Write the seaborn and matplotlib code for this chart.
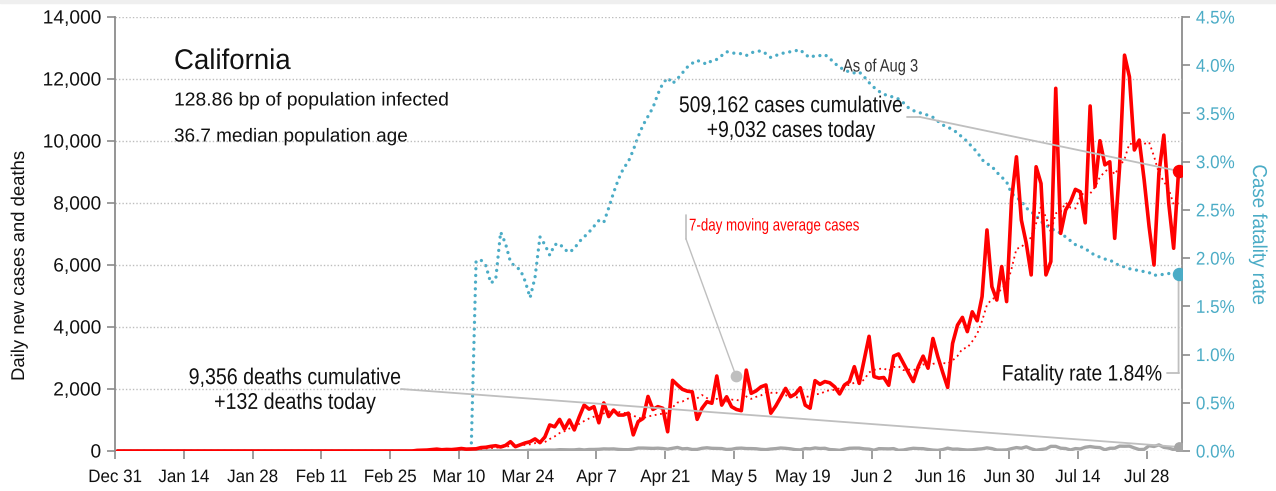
import matplotlib
matplotlib.use("Agg")
import matplotlib.pyplot as plt
import matplotlib.ticker as mticker
from matplotlib.patheffects import AbstractPathEffect
from matplotlib.transforms import Affine2D
import seaborn as sns
import numpy as np
import pandas as pd

# ---------------- data ----------------
start_date = "2019-12-31"
end_date = "2020-08-03"

# daily new cases (zero before Mar 1)
cases_before_mar = [0] * 61
cases_mar = [20, 25, 30, 45, 60, 40, 50, 45, 60, 80, 60, 65, 70, 110, 120, 150, 170, 130, 180, 300,
             140, 200, 260, 300, 390, 270, 450, 840, 780, 1020, 710]
cases_apr = [1000, 680, 1100, 1480, 1350, 1430, 910, 1550, 1110, 1320, 1160, 1160, 1220, 520, 950,
             1050, 1760, 1340, 1430, 1380, 620, 2280, 2130, 1990, 1930, 1910, 1020, 1380, 1590, 1540]
cases_may = [2420, 1480, 1750, 1430, 1340, 1300, 2610, 1860, 1940, 2070, 2130, 1220, 1450, 1730, 2020,
             1750, 1840, 2040, 1480, 1380, 2270, 2150, 2240, 2200, 2070, 1840, 2130, 2240, 2720, 2180, 2940]
cases_jun = [3700, 2400, 2350, 2370, 2120, 3060, 3130, 2830, 2530, 2240, 2720, 3060, 2670, 3630, 3040,
             2530, 2050, 3470, 4060, 4310, 3850, 4490, 4200, 4980, 7130, 5300, 4870, 5950, 4820, 8100]
cases_jul = [9490, 7450, 6700, 5680, 9170, 8630, 5680, 6110, 11700, 7020, 7770, 8040, 8440, 8360, 7360,
             11130, 8530, 10010, 9230, 9330, 6860, 9170, 12770, 12070, 9710, 10030, 8740, 7240, 6000, 8960, 10190]
cases_aug = [7990, 6540, 9032]

# daily new deaths (zero before Mar 1)
deaths_before_mar = [0] * 61
deaths_mar = [0, 0, 0, 1, 0, 1, 0, 1, 1, 2, 1, 2, 3, 2, 2, 6, 5, 6, 7, 9, 13, 10, 12, 26, 18, 24, 28, 32, 30, 43, 38]
deaths_apr = [36, 37, 52, 34, 49, 50, 55, 68, 64, 68, 52, 44, 42, 64, 95, 95, 88, 84, 91, 80, 60, 87, 115, 70, 80,
              49, 51, 88, 104, 87]
deaths_may = [84, 79, 50, 56, 86, 93, 79, 78, 72, 53, 45, 65, 77, 97, 87, 70, 43, 35, 78, 70, 99, 82, 88, 47, 38,
              23, 60, 88, 93, 93, 70]
deaths_jun = [61, 26, 76, 73, 68, 77, 23, 33, 65, 88, 79, 75, 50, 30, 21, 47, 92, 59, 62, 44, 31, 38, 59, 71, 101,
              78, 31, 30, 36, 77]
deaths_jul = [110, 90, 135, 72, 26, 48, 70, 150, 149, 90, 80, 34, 78, 66, 121, 144, 120, 110, 40, 88, 90, 157, 154,
              158, 98, 47, 53, 170, 145, 197, 118]
deaths_aug = [95, 44, 132]

# case fatality rate in % (zero before Mar 13)
cfr_before = [0.0] * 73
cfr_mar = [1.97, 1.98, 1.92, 1.74, 1.78, 2.27, 2.15, 1.96, 1.91, 1.88, 1.76, 1.59, 1.80, 2.22, 2.14, 2.03, 2.14,
           2.15, 2.09]
cfr_apr = [2.06, 2.10, 2.17, 2.22, 2.27, 2.33, 2.39, 2.37, 2.52, 2.68, 2.82, 2.93, 3.00, 3.12, 3.26, 3.38, 3.47,
           3.56, 3.70, 3.81, 3.87, 3.81, 3.86, 3.92, 3.98, 4.02, 4.05, 4.03, 4.01, 4.05]
cfr_may = [4.06, 4.10, 4.14, 4.13, 4.12, 4.12, 4.10, 4.13, 4.14, 4.15, 4.12, 4.08, 4.10, 4.12, 4.13, 4.14, 4.15,
           4.16, 4.11, 4.08, 4.10, 4.10, 4.11, 4.07, 4.02, 3.98, 3.95, 3.93, 3.92, 3.93, 3.88]
cfr_jun = [3.82, 3.77, 3.73, 3.70, 3.68, 3.67, 3.65, 3.61, 3.56, 3.53, 3.51, 3.50, 3.48, 3.46, 3.42, 3.38, 3.36,
           3.33, 3.30, 3.25, 3.21, 3.15, 3.10, 3.02, 2.98, 2.95, 2.89, 2.84, 2.79, 2.67]
cfr_jul = [2.63, 2.59, 2.52, 2.48, 2.44, 2.38, 2.34, 2.31, 2.28, 2.26, 2.22, 2.18, 2.14, 2.12, 2.10, 2.06, 2.03,
           2.01, 1.99, 1.98, 1.95, 1.92, 1.91, 1.89, 1.88, 1.87, 1.86, 1.85, 1.82, 1.83, 1.83]
cfr_aug = [1.84, 1.84, 1.84]

tick_dates = ["2019-12-31", "2020-01-14", "2020-01-28", "2020-02-11", "2020-02-25", "2020-03-10",
              "2020-03-24", "2020-04-07", "2020-04-21", "2020-05-05", "2020-05-19", "2020-06-02",
              "2020-06-16", "2020-06-30", "2020-07-14", "2020-07-28"]
tick_labels = ["Dec 31", "Jan 14", "Jan 28", "Feb 11", "Feb 25", "Mar 10", "Mar 24", "Apr 7", "Apr 21",
               "May 5", "May 19", "Jun 2", "Jun 16", "Jun 30", "Jul 14", "Jul 28"]
left_ticks = [0, 2000, 4000, 6000, 8000, 10000, 12000, 14000]
right_ticks = [0.0, 0.5, 1.0, 1.5, 2.0, 2.5, 3.0, 3.5, 4.0, 4.5]

state_name = "California"
info_line1 = "128.86 bp of population infected"
info_line2 = "36.7 median population age"
cases_note = "509,162 cases cumulative\n+9,032 cases today"
deaths_note = "9,356 deaths cumulative\n+132 deaths today"
fatal_note = "Fatality rate 1.84%"
asof_note = "As of Aug 3"
ma_note = "7-day moving average cases"

# ---------------- frame ----------------
dates = pd.date_range(start_date, end_date, freq="D")
df = pd.DataFrame({
    "date": dates + pd.Timedelta(hours=12),
    "cases": cases_before_mar + cases_mar + cases_apr + cases_may + cases_jun + cases_jul + cases_aug,
    "deaths": deaths_before_mar + deaths_mar + deaths_apr + deaths_may + deaths_jun + deaths_jul + deaths_aug,
    "cfr": cfr_before + cfr_mar + cfr_apr + cfr_may + cfr_jun + cfr_jul + cfr_aug,
})
df["ma7"] = df["cases"].rolling(7, min_periods=1).mean()


# horizontal squeeze of glyph outlines to imitate the condensed face of the original
class Condense(AbstractPathEffect):
    def __init__(self, sx=0.88, align="center"):
        super().__init__()
        self.sx = sx
        self.align = align

    def draw_path(self, renderer, gc, tpath, affine, rgbFace=None):
        ext = tpath.get_extents()
        if self.align == "left":
            c = 0.0
        elif self.align == "right":
            c = ext.x1
        else:
            c = 0.5 * (ext.x0 + ext.x1)
        t = Affine2D().translate(-c, 0).scale(self.sx, 1.0).translate(c, 0) + affine
        renderer.draw_path(gc, tpath, t, rgbFace)


# ---------------- style ----------------
sns.set_theme(style="white")
plt.rcParams["font.family"] = ["Liberation Sans", "DejaVu Sans"]

RED = "#FF0000"
TEAL = "#4BACC6"
GRAY = "#A6A6A6"
AXGRAY = "#8C8C8C"
TXT = "#111111"

fig = plt.figure(figsize=(12.76, 4.91), dpi=100)
fig.patches.append(plt.Rectangle((0, 1 - 3 / 491), 1, 3 / 491, transform=fig.transFigure,
                                 color="#EFEFEF", zorder=0))
ax = fig.add_axes([115 / 1276, 1 - 451 / 491, 1067 / 1276, 434 / 491])
ax2 = ax.twinx()

x0 = pd.Timestamp(start_date)
x1 = x0 + pd.Timedelta(days=217.2)

# left-axis series
sns.lineplot(data=df, x="date", y="deaths", ax=ax, color=GRAY, lw=2.4, zorder=3)
sns.lineplot(data=df, x="date", y="ma7", ax=ax, color=RED, lw=1.3, linestyle=(0, (1, 2)), zorder=4)
sns.lineplot(data=df, x="date", y="cases", ax=ax, color=RED, lw=2.6, zorder=5)

# right-axis series
sns.lineplot(data=df, x="date", y="cfr", ax=ax2, color=TEAL, lw=2.4,
             linestyle=(0, (0.01, 2.0)), dash_capstyle="round", zorder=4)

last = df.iloc[-1]
ax.scatter([last["date"]], [last["cases"]], s=75, color=RED, zorder=8)
ax.scatter([last["date"]], [last["deaths"]], s=45, color=GRAY, zorder=8)
ax2.scatter([last["date"]], [last["cfr"]], s=75, color=TEAL, zorder=8)

# axes limits/ticks
ax.set_xlim(x0, x1)
ax.set_ylim(0, 14000)
ax2.set_ylim(0, 4.5)
ax.set_xticks([pd.Timestamp(t) for t in tick_dates])
ax.set_xticklabels(tick_labels)
ax.set_yticks(left_ticks)
ax.yaxis.set_major_formatter(mticker.FuncFormatter(lambda v, p: f"{int(v):,}"))
ax2.set_yticks(right_ticks)
ax2.yaxis.set_major_formatter(mticker.FuncFormatter(lambda v, p: f"{v:.1f}%"))

ax.grid(axis="y", linestyle=(0, (1, 1.5)), color="#BDBDBD", lw=1.0)
ax.grid(axis="x", visible=False)
ax2.grid(False)
for a in (ax, ax2):
    for s in ("top", "bottom"):
        a.spines[s].set_visible(False)
ax.spines["left"].set_color(AXGRAY)
ax.spines["left"].set_linewidth(1.3)
ax.spines["right"].set_visible(False)
ax2.spines["left"].set_visible(False)
ax2.spines["right"].set_color(AXGRAY)
ax2.spines["right"].set_linewidth(1.3)

ax.tick_params(axis="x", direction="out", length=6, width=1.2, color=AXGRAY, labelsize=13,
               labelcolor=TXT, pad=7, bottom=True)
ax.tick_params(axis="y", direction="out", length=6, width=1.2, color=AXGRAY, labelsize=13.8,
               labelcolor=TXT, pad=4, left=True)
ax2.tick_params(axis="y", direction="out", length=6, width=1.2, color=AXGRAY, labelsize=13.2,
                labelcolor=TEAL, pad=4, right=True)

ax.set_xlabel("")
ax.set_ylabel("Daily new cases and deaths", fontsize=13.3, color=TXT)
ax.yaxis.set_label_coords((28 - 115) / 1067, (451 - 266) / 434)
ax2.set_ylabel("Case fatality rate", fontsize=14.5, color=TEAL, rotation=270)
ax2.yaxis.set_label_coords((1268 - 115) / 1067, (451 - 235) / 434)

ax.set_zorder(ax2.get_zorder() + 1)
ax.patch.set_visible(False)

# ---------------- annotations ----------------
def fx(px):
    return (px - 115) / 1067

def fy(py):
    return (451 - py) / 434

ax.text(fx(174), fy(62), state_name, transform=ax.transAxes, fontsize=20.5, color=TXT, va="center",
        ha="left", path_effects=[Condense(0.97, "left")])
ax.text(fx(174), fy(101), info_line1, transform=ax.transAxes, fontsize=13.5, color=TXT, va="center",
        ha="left", path_effects=[Condense(1.03, "left")])
ax.text(fx(174), fy(137), info_line2, transform=ax.transAxes, fontsize=13.5, color=TXT, va="center",
        ha="left", path_effects=[Condense(1.01, "left")])

ax.text(fx(791), fy(118), cases_note, transform=ax.transAxes, fontsize=16.4, color=TXT,
        va="center", ha="center", linespacing=1.1, path_effects=[Condense(0.85, "center")])
ax.text(fx(295), fy(390), deaths_note, transform=ax.transAxes, fontsize=16.4, color=TXT,
        va="center", ha="center", linespacing=1.1, path_effects=[Condense(0.86, "center")])
ax.text(fx(1163), fy(375), fatal_note, transform=ax.transAxes, fontsize=16.1, color=TXT,
        va="center", ha="right", path_effects=[Condense(0.86, "right")])
ax.text(fx(843), fy(67), asof_note, transform=ax.transAxes, fontsize=12.9, color="#333333",
        va="center", ha="left", path_effects=[Condense(0.82, "left")])
ax.text(fx(689), fy(226), ma_note, transform=ax.transAxes, fontsize=12.3, color=RED,
        va="center", ha="left", path_effects=[Condense(0.78, "left")])

LEAD = "#BFBFBF"
# cases leader
ax.plot([fx(907), fx(920)], [fy(117), fy(117)], transform=ax.transAxes, color=LEAD, lw=1.3, zorder=6)
ax.annotate("", xy=(last["date"], last["cases"]), xycoords="data",
            xytext=(fx(920), fy(117)), textcoords="axes fraction",
            arrowprops=dict(arrowstyle="-", color=LEAD, lw=1.3, shrinkA=0, shrinkB=0), zorder=6)
# deaths leader
ax.annotate("", xy=(last["date"], last["deaths"]), xycoords="data",
            xytext=(fx(401), fy(389)), textcoords="axes fraction",
            arrowprops=dict(arrowstyle="-", color=LEAD, lw=1.3, shrinkA=0, shrinkB=0), zorder=6)
# fatality leader
ax.plot([fx(1167), fx(1178.5)], [fy(373), fy(373)], transform=ax.transAxes, color=LEAD, lw=1.3, zorder=6)
ax2.annotate("", xy=(last["date"], last["cfr"]), xycoords="data",
             xytext=(last["date"], fy(373)), textcoords=("data", "axes fraction"),
             arrowprops=dict(arrowstyle="-", color=LEAD, lw=1.3, shrinkA=0, shrinkB=0))
# moving-average label leader
ax.plot([fx(686), fx(686)], [fy(215), fy(239)], transform=ax.transAxes, color=LEAD, lw=1.2, zorder=6)
ax.plot([fx(686), fx(736)], [fy(239), fy(376)], transform=ax.transAxes, color=LEAD, lw=1.0, zorder=6)
ax.scatter([fx(736)], [fy(376)], transform=ax.transAxes, s=55, color="#BFBFBF", zorder=7)

# condensed look for tick labels and axis labels
fig.canvas.draw()
for t in ax.get_xticklabels():
    t.set_path_effects([Condense(0.94, "center")])
for t in ax.get_yticklabels():
    t.set_path_effects([Condense(1.0, "right")])
for t in ax2.get_yticklabels():
    t.set_path_effects([Condense(0.93, "left")])
ax.yaxis.label.set_path_effects([Condense(1.0, "center")])
ax2.yaxis.label.set_path_effects([Condense(0.93, "center")])

fig.savefig("out.png", dpi=100)
